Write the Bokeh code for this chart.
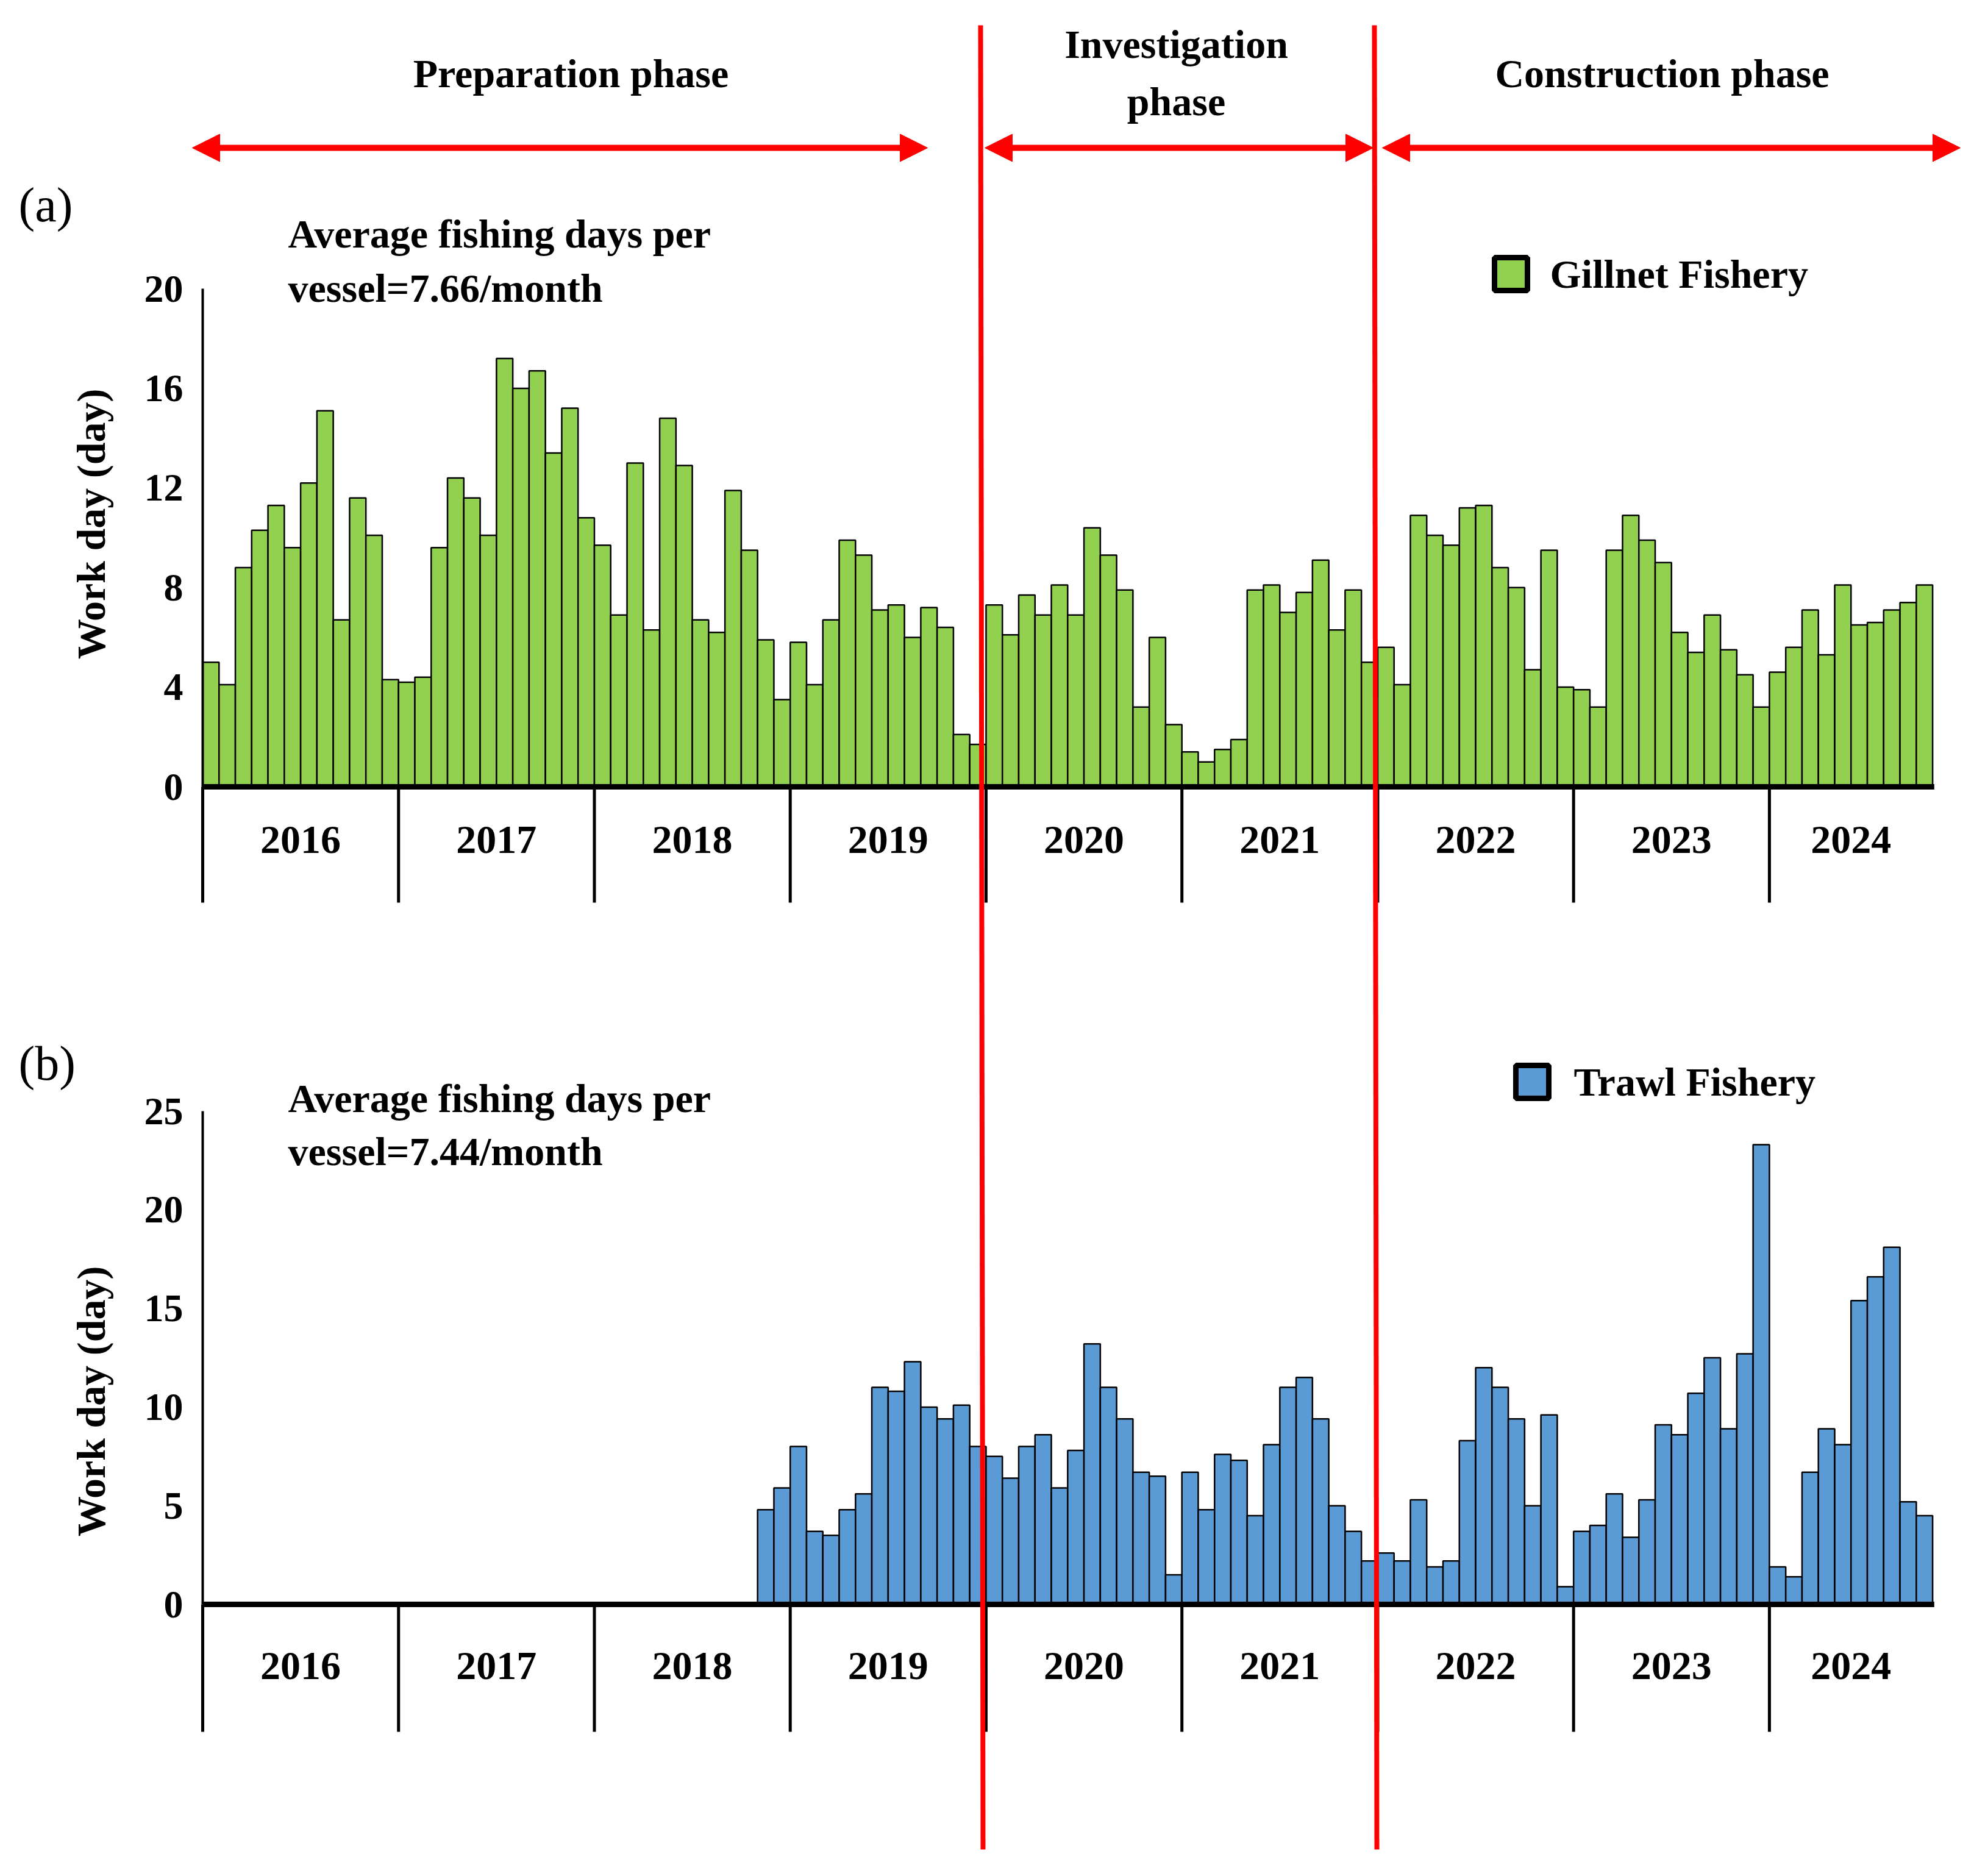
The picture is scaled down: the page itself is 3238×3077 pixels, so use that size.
from bokeh.plotting import figure
from bokeh.models import Range1d, Arrow, NormalHead, ColumnDataSource
from bokeh.core.properties import value
from bokeh.embed import file_html
from bokeh.resources import INLINE

years = ["2016", "2017", "2018", "2019", "2020", "2021", "2022", "2023", "2024"]
gillnet = [5.0,4.1,8.8,10.3,11.3,9.6,12.2,15.1,6.7,11.6,10.1,4.3,
           4.2,4.4,9.6,12.4,11.6,10.1,17.2,16.0,16.7,13.4,15.2,10.8,
           9.7,6.9,13.0,6.3,14.8,12.9,6.7,6.2,11.9,9.5,5.9,3.5,
           5.8,4.1,6.7,9.9,9.3,7.1,7.3,6.0,7.2,6.4,2.1,1.7,
           7.3,6.1,7.7,6.9,8.1,6.9,10.4,9.3,7.9,3.2,6.0,2.5,
           1.4,1.0,1.5,1.9,7.9,8.1,7.0,7.8,9.1,6.3,7.9,5.0,
           5.6,4.1,10.9,10.1,9.7,11.2,11.3,8.8,8.0,4.7,9.5,4.0,
           3.9,3.2,9.5,10.9,9.9,9.0,6.2,5.4,6.9,5.5,4.5,3.2,
           4.6,5.6,7.1,5.3,8.1,6.5,6.6,7.1,7.4,8.1]
trawl_start = 34
trawl = [4.8,5.9,
         8.0,3.7,3.5,4.8,5.6,11.0,10.8,12.3,10.0,9.4,10.1,8.0,
         7.5,6.4,8.0,8.6,5.9,7.8,13.2,11.0,9.4,6.7,6.5,1.5,
         6.7,4.8,7.6,7.3,4.5,8.1,11.0,11.5,9.4,5.0,3.7,2.2,
         2.6,2.2,5.3,1.9,2.2,8.3,12.0,11.0,9.4,5.0,9.6,0.9,
         3.7,4.0,5.6,3.4,5.3,9.1,8.6,10.7,12.5,8.9,12.7,23.3,
         1.9,1.4,6.7,8.9,8.1,15.4,16.6,18.1,5.2,4.5]
ticks_a = [0, 4, 8, 12, 16, 20]
ticks_b = [0, 5, 10, 15, 20, 25]

W, H = 3220, 3060
FONT = value("Liberation Serif")
n = len(gillnet)
x0, pxm = 332.0, 26.77
p = figure(width=W, height=H, output_backend="svg", toolbar_location=None,
           x_range=Range1d(0, W), y_range=Range1d(H, 0),
           x_axis_type=None, y_axis_type=None, min_border=0,
           outline_line_color=None)
p.grid.visible = False
p.extra_x_ranges = {"m": Range1d(-x0 / pxm, (W - x0) / pxm)}
p.extra_y_ranges = {"a": Range1d((1290 - H) / 40.85, 1290 / 40.85),
                    "b": Range1d((2631 - H) / 32.36, 2631 / 32.36)}

def panel(rng, vals, start, color, ticks, base_px, sep_bottom_val, lbl_val, tick_top):
    xs = [start + i + 0.5 for i in range(len(vals))]
    p.vbar(x=xs, top=vals, bottom=0, width=1.0, fill_color=color, line_color="black",
           line_width=2.5, x_range_name="m", y_range_name=rng)
    # baseline
    p.segment(x0=[0], x1=[n + 0.1], y0=[0], y1=[0], line_color="black", line_width=9,
              x_range_name="m", y_range_name=rng)
    # year separators
    seps = [12 * i for i in range(len(years))]
    p.segment(x0=seps, x1=seps, y0=[0] * len(seps), y1=[sep_bottom_val] * len(seps),
              line_color="black", line_width=5, x_range_name="m", y_range_name=rng)
    centers = [min(12 * i + 6, (12 * i + n) / 2) for i in range(len(years))]
    p.text(x=centers, y=[lbl_val] * len(years), text=years, x_range_name="m", y_range_name=rng,
           text_font=FONT, text_font_style="bold", text_font_size="66px",
           text_align="center", text_baseline="middle")
    # y axis
    p.segment(x0=[0], x1=[0], y0=[0], y1=[tick_top], line_color="black", line_width=4,
              x_range_name="m", y_range_name=rng)
    p.text(x=[300] * len(ticks), y=ticks, text=[str(t) for t in ticks], y_range_name=rng,
           text_font=FONT, text_font_style="bold", text_font_size="64px",
           text_align="right", text_baseline="middle")

panel("a", gillnet, 0, "#92D050", ticks_a, 1290, -190 / 40.85, -87 / 40.85, 20)
panel("b", trawl, trawl_start, "#5B9BD5", ticks_b, 2631, -209 / 32.36, -101 / 32.36, 25)

bold = dict(text_font=FONT, text_font_style="bold", text_font_size="66px")
# headers
p.text(x=[936, 1929, 1929, 2726], y=[120, 72, 166, 120],
       text=["Preparation phase", "Investigation", "phase", "Construction phase"],
       text_align="center", text_baseline="middle", **bold)
for xa, xb in [(315, 1521), (1615, 2252), (2267, 3215)]:
    p.add_layout(Arrow(x_start=xa, x_end=xb, y_start=242, y_end=242, line_color="#FF0000",
                       line_width=10,
                       start=NormalHead(size=45, fill_color="#FF0000", line_color="#FF0000"),
                       end=NormalHead(size=45, fill_color="#FF0000", line_color="#FF0000")))
p.segment(x0=[1608, 2254], x1=[1612, 2258], y0=[41, 41], y1=[3033, 3033],
          line_color="#FF0000", line_width=8)

p.text(x=[30, 30], y=[335, 1743], text=["(a)", "(b)"], text_font=FONT,
       text_font_size="80px", text_baseline="middle")
p.text(x=[472, 472, 472, 472], y=[383, 472, 1801, 1888],
       text=["Average fishing days per", "vessel=7.66/month",
             "Average fishing days per", "vessel=7.44/month"],
       text_baseline="middle", **bold)
p.rect(x=[2478, 2513], y=[449, 1774], width=54, height=54,
       fill_color=["#92D050", "#5B9BD5"], line_color="black", line_width=9)
p.text(x=[2542, 2581], y=[449, 1774], text=["Gillnet Fishery", "Trawl Fishery"],
       text_baseline="middle", **bold)
p.text(x=[149, 149], y=[859, 2298], text=["Work day (day)", "Work day (day)"],
       angle=1.5708, text_align="center", text_baseline="middle", **bold)

open("out.html", "w").write(file_html(p, INLINE))
